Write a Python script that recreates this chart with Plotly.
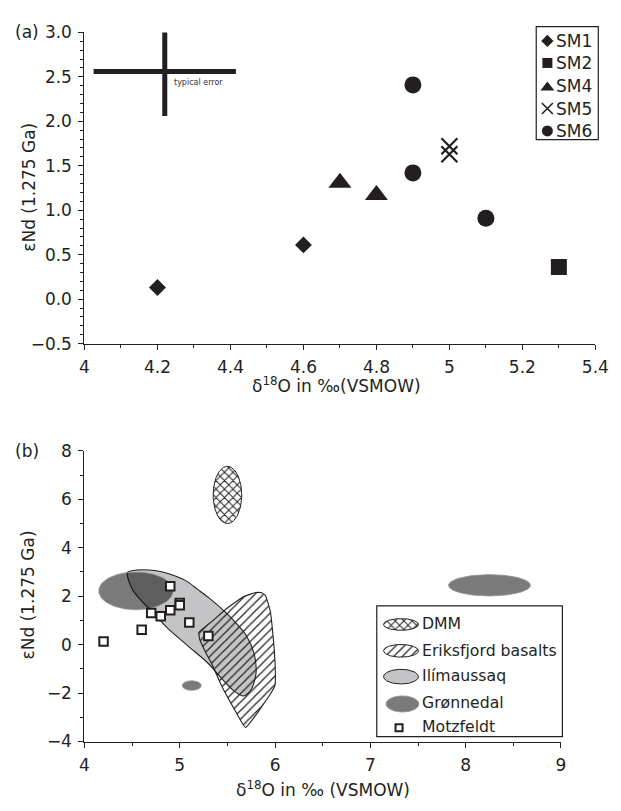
import numpy as np
import plotly.graph_objects as go

W, H = 621, 811
INK = "#231f20"
FONT = "DejaVu Sans, Liberation Sans, Arial, sans-serif"
TICK_FS = 17
TITLE_FS = 17

# ---------------- panel (a): Motzfeldt sample groups ----------------
sm_names = ["SM1", "SM2", "SM4", "SM5", "SM6"]
sm1_d18o = [4.2, 4.6]
sm1_end = [0.13, 0.61]
sm2_d18o = [5.3]
sm2_end = [0.36]
sm4_d18o = [4.7, 4.8]
sm4_end = [1.31, 1.17]
sm5_d18o = [5.0, 5.0]
sm5_end = [1.72, 1.63]
sm6_d18o = [4.9, 4.9, 5.1]
sm6_end = [2.41, 1.42, 0.91]

# typical analytical uncertainty (cross)
err_center_d18o = [4.22]
err_center_end = [2.56]
err_d18o = 0.195
err_end = 0.5

# ---------------- panel (b): reference fields ----------------
dmm_center = [5.50, 6.18]
dmm_semi = [0.15, 1.18]

ilim_d18o = [4.45, 4.55, 4.68, 4.82, 4.96, 5.08, 5.18, 5.30, 5.47, 5.60, 5.69,
             5.78, 5.80, 5.75, 5.67, 5.57, 5.45, 5.30, 5.10, 4.88, 4.70, 4.60,
             4.50, 4.45]
ilim_end = [2.98, 3.08, 3.08, 3.00, 2.82, 2.60, 2.30, 1.95, 1.37, 0.85, 0.43,
            -0.37, -1.18, -1.85, -2.12, -1.92, -1.45, -0.78, -0.10, 0.65, 1.40,
            1.80, 2.30, 2.98]

eriks_d18o = [5.20, 5.34, 5.50, 5.67, 5.80, 5.86, 5.90, 5.95, 5.98, 6.00, 6.00,
              5.96, 5.69, 5.57, 5.44, 5.35, 5.27, 5.21, 5.20]
eriks_end = [0.50, 0.97, 1.51, 1.98, 2.15, 2.14, 2.02, 1.37, 0.30, -0.77,
             -1.65, -1.98, -3.42, -2.65, -1.71, -0.91, -0.30, 0.20, 0.50]

gron_cx = [4.54, 8.25, 5.125]
gron_cy = [2.22, 2.45, -1.69]
gron_rx = [0.39, 0.43, 0.10]
gron_ry = [0.78, 0.44, 0.20]

# Motzfeldt compilation = all SM samples
motz_d18o = sm1_d18o + sm2_d18o + sm4_d18o + sm5_d18o + sm6_d18o
motz_end = sm1_end + sm2_end + sm4_end + sm5_end + sm6_end

field_names = ["DMM", "Eriksfjord basalts", "Ilímaussaq", "Grønnedal", "Motzfeldt"]

GRON_FILL = "rgba(0,0,0,0.52)"
GRON_EDGE = "rgba(150,150,150,0.85)"
ILIM_FILL = "#c4c4c6"
DMM_PATTERN = dict(shape="x", size=6, solidity=0.3, fgcolor=INK,
                   bgcolor="white", fillmode="replace")
ERIKS_PATTERN = dict(shape="/", size=6, solidity=0.2, fgcolor=INK,
                     bgcolor="rgba(0,0,0,0)", fillmode="replace")


def ellipse(cx, cy, rx, ry, n=120):
    t = np.linspace(0, 2 * np.pi, n)
    return cx + rx * np.cos(t), cy + ry * np.sin(t)


def px(x):
    return x / W


def py(y):
    return 1 - y / H


fig = go.Figure()

# ---- panel (a) ----
marker_specs = [
    (sm1_d18o, sm1_end, "diamond", 13, 9.5),
    (sm2_d18o, sm2_end, "square", 16, 10),
    (sm4_d18o, sm4_end, "triangle-up", 20, 12),
    (sm5_d18o, sm5_end, "x-thin", 16, 11),
    (sm6_d18o, sm6_end, "circle", 17, 11),
]
for (xs, ys, sym, size, _), name in zip(marker_specs, sm_names):
    if sym == "x-thin":
        mk = dict(symbol=sym, size=size, line=dict(color=INK, width=2.2))
    else:
        mk = dict(symbol=sym, size=size, color=INK, line=dict(width=0))
    fig.add_trace(go.Scatter(x=xs, y=ys, mode="markers", marker=mk, name=name,
                             xaxis="x", yaxis="y", showlegend=False))

fig.add_trace(go.Scatter(
    x=err_center_d18o, y=err_center_end, mode="markers",
    marker=dict(size=1, color="rgba(0,0,0,0)"),
    error_x=dict(type="constant", value=err_d18o, thickness=5, width=0, color=INK),
    error_y=dict(type="constant", value=err_end, thickness=5, width=0, color=INK),
    xaxis="x", yaxis="y", showlegend=False))

# ---- panel (b) ----
ex, ey = ellipse(dmm_center[0], dmm_center[1], dmm_semi[0], dmm_semi[1])
fig.add_trace(go.Scatter(
    x=ex, y=ey, mode="lines", fill="toself", fillcolor="rgba(0,0,0,0)",
    fillpattern=DMM_PATTERN, line=dict(color=INK, width=1),
    xaxis="x2", yaxis="y2", showlegend=False))

fig.add_trace(go.Scatter(
    x=ilim_d18o, y=ilim_end, mode="lines", fill="toself", fillcolor=ILIM_FILL,
    line=dict(color=INK, width=1.1, shape="spline", smoothing=0.8),
    xaxis="x2", yaxis="y2", showlegend=False))

fig.add_trace(go.Scatter(
    x=eriks_d18o, y=eriks_end, mode="lines", fill="toself",
    fillcolor="rgba(0,0,0,0)", fillpattern=ERIKS_PATTERN,
    line=dict(color=INK, width=1.1, shape="spline", smoothing=0.35),
    xaxis="x2", yaxis="y2", showlegend=False))

for cx, cy, rx, ry in zip(gron_cx, gron_cy, gron_rx, gron_ry):
    gx, gy = ellipse(cx, cy, rx, ry)
    fig.add_trace(go.Scatter(
        x=gx, y=gy, mode="lines", fill="toself", fillcolor=GRON_FILL,
        line=dict(color=GRON_EDGE, width=1), xaxis="x2", yaxis="y2",
        showlegend=False))

fig.add_trace(go.Scatter(
    x=motz_d18o, y=motz_end, mode="markers",
    marker=dict(symbol="square", size=8.5, color="white",
                line=dict(color=INK, width=2)),
    xaxis="x2", yaxis="y2", showlegend=False))

# ---- legends, drawn on a pixel-coordinate overlay ----
shapes = []
annotations = []
# legend (a)
shapes.append(dict(type="rect", xref="x3", yref="y3", x0=548, x1=612, y0=17, y1=133,
                   line=dict(color=INK, width=1.2), fillcolor="white", layer="below"))
leg_a_y = [31.7, 54.3, 77.5, 101, 124]
for (_, _, sym, _, lsize), name, ly in zip(marker_specs, sm_names, leg_a_y):
    yy = ly + (2 if sym == "triangle-up" else 0)
    if sym == "x-thin":
        mk = dict(symbol=sym, size=lsize, line=dict(color=INK, width=1.6))
    else:
        mk = dict(symbol=sym, size=lsize, color=INK, line=dict(width=0))
    fig.add_trace(go.Scatter(x=[559.5], y=[yy], mode="markers", marker=mk,
                             xaxis="x3", yaxis="y3", showlegend=False))
    annotations.append(dict(xref="x3", yref="y3", x=566.5, y=ly, text=name,
                            showarrow=False, xanchor="left", yanchor="middle",
                            font=dict(size=17, color=INK)))

# legend (b)
shapes.append(dict(type="rect", xref="x3", yref="y3", x0=383.5, x1=575, y0=611, y1=745,
                   line=dict(color=INK, width=1.2), fillcolor="white", layer="below"))
leg_b_y = [629.5, 656.5, 682.5, 710, 735]
lx, ly = ellipse(408.5, 630, 18, 6)
fig.add_trace(go.Scatter(
    x=lx, y=ly, mode="lines", fill="toself", fillcolor="rgba(0,0,0,0)",
    fillpattern=DMM_PATTERN, line=dict(color=INK, width=1),
    xaxis="x3", yaxis="y3", showlegend=False))
lx, ly = ellipse(408.5, 657, 18, 6.5)
fig.add_trace(go.Scatter(
    x=lx, y=ly, mode="lines", fill="toself", fillcolor="rgba(0,0,0,0)",
    fillpattern=ERIKS_PATTERN, line=dict(color=INK, width=1),
    xaxis="x3", yaxis="y3", showlegend=False))
lx, ly = ellipse(408.5, 683.5, 18, 7.5)
fig.add_trace(go.Scatter(
    x=lx, y=ly, mode="lines", fill="toself", fillcolor=ILIM_FILL,
    line=dict(color=INK, width=1), xaxis="x3", yaxis="y3", showlegend=False))
lx, ly = ellipse(410, 711.5, 17, 8.3)
fig.add_trace(go.Scatter(
    x=lx, y=ly, mode="lines", fill="toself", fillcolor=GRON_FILL,
    line=dict(color=GRON_EDGE, width=1), xaxis="x3", yaxis="y3", showlegend=False))
fig.add_trace(go.Scatter(
    x=[406.5], y=[736], mode="markers",
    marker=dict(symbol="square", size=7, color="white", line=dict(color=INK, width=2)),
    xaxis="x3", yaxis="y3", showlegend=False))
for name, yy in zip(field_names, leg_b_y):
    annotations.append(dict(xref="x3", yref="y3", x=428, y=yy, text=name,
                            showarrow=False, xanchor="left", yanchor="middle",
                            font=dict(size=15.7, color=INK)))

# typical-error label
annotations.append(dict(xref="x", yref="y", x=err_center_d18o[0] + 0.02, y=2.44,
                        text="typical error", showarrow=False, xanchor="left",
                        yanchor="middle", font=dict(size=8, color="#333")))

# panel labels and axis titles
title_font = dict(size=TITLE_FS, color=INK)
annotations += [
    dict(xref="paper", yref="paper", x=px(23), y=py(23), text="(a)", showarrow=False,
         xanchor="center", yanchor="middle", font=dict(size=17, color=INK)),
    dict(xref="paper", yref="paper", x=px(23), y=py(452), text="(b)", showarrow=False,
         xanchor="center", yanchor="middle", font=dict(size=17, color=INK)),
    dict(xref="paper", yref="paper", x=px(24), y=py(182), text="εNd (1.275 Ga)",
         textangle=-90, showarrow=False, xanchor="center", yanchor="middle",
         font=title_font),
    dict(xref="paper", yref="paper", x=px(24), y=py(600), text="εNd (1.275 Ga)",
         textangle=-90, showarrow=False, xanchor="center", yanchor="middle",
         font=title_font),
    dict(xref="paper", yref="paper", x=px(342), y=py(384),
         text="δ<sup>18</sup>O in ‰(VSMOW)", showarrow=False,
         xanchor="center", yanchor="middle", font=title_font),
    dict(xref="paper", yref="paper", x=px(328), y=py(799),
         text="δ<sup>18</sup>O in ‰ (VSMOW)", showarrow=False,
         xanchor="center", yanchor="middle", font=title_font),
]

axis_common = dict(showline=True, linecolor=INK, linewidth=1.3, ticks="outside",
                   ticklen=5, tickwidth=1.3, tickcolor=INK, showgrid=False,
                   zeroline=False, tickfont=dict(size=TICK_FS, color=INK),
                   ticklabelstandoff=3, fixedrange=True)


def minor(d):
    return dict(dtick=d, ticks="outside", ticklen=3, tickwidth=1, tickcolor=INK,
                showgrid=False)


fig.update_layout(
    width=W, height=H, margin=dict(l=0, r=0, t=0, b=0),
    paper_bgcolor="white", plot_bgcolor="rgba(0,0,0,0)",
    font=dict(family=FONT, color=INK),
    showlegend=False,
    xaxis=dict(domain=[px(82), px(609)], anchor="y", range=[4, 5.4], tick0=4,
               dtick=0.2, minor=minor(0.1), **axis_common),
    yaxis=dict(domain=[py(342), py(23)], anchor="x", range=[-0.5, 3.0], tick0=0,
               dtick=0.5, tickformat=".1f", minor=minor(0.1), **axis_common),
    xaxis2=dict(domain=[px(82), px(573.5)], anchor="y2", range=[4, 9], tick0=4,
                dtick=1, minor=minor(0.5), **axis_common),
    yaxis2=dict(domain=[py(750), py(452)], anchor="x2", range=[-4, 8], tick0=0,
                dtick=2, minor=minor(1), **axis_common),
    xaxis3=dict(domain=[0, 1], anchor="y3", range=[0, W], visible=False,
                fixedrange=True),
    yaxis3=dict(domain=[0, 1], anchor="x3", range=[H, 0], visible=False,
                fixedrange=True),
    shapes=shapes,
    annotations=annotations,
)

fig.write_html("out.html")
